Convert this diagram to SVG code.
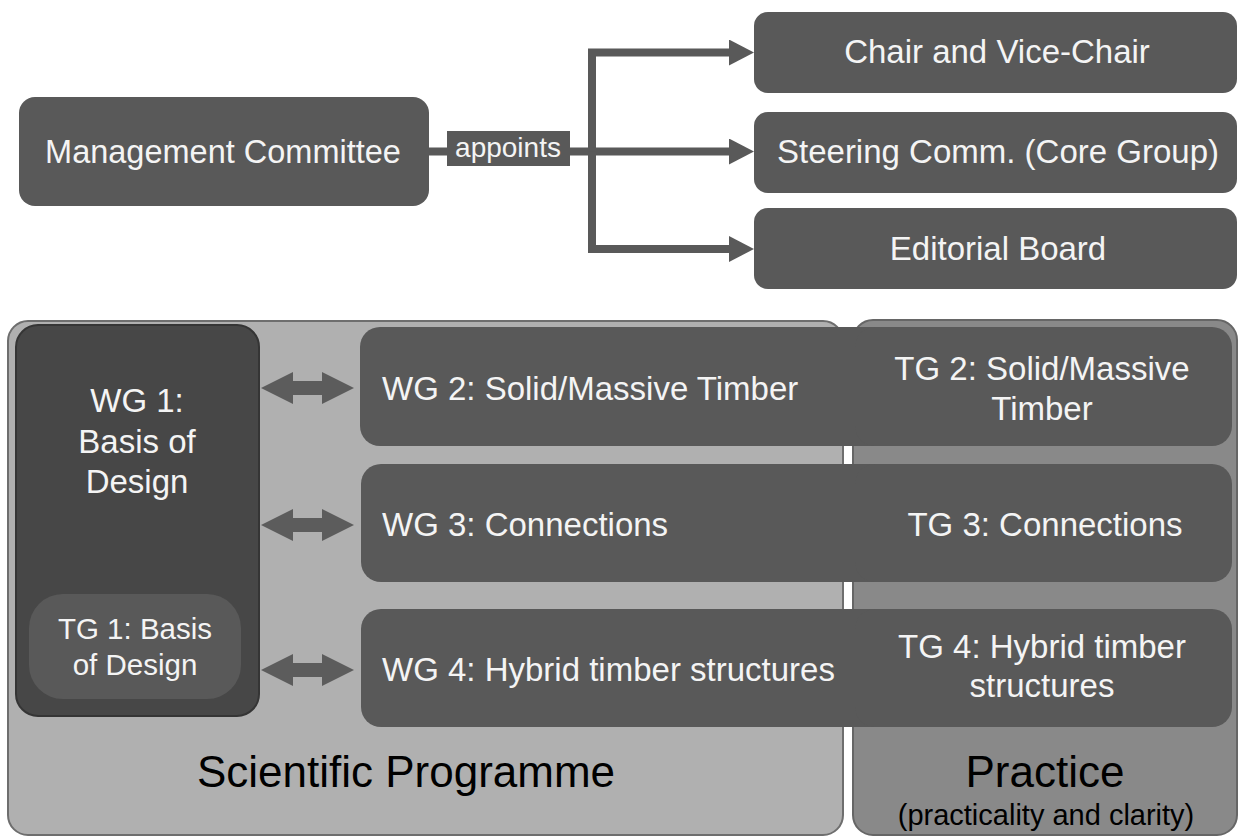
<svg xmlns="http://www.w3.org/2000/svg" width="1238" height="837" viewBox="0 0 1238 837">
<defs>
<style>
.t{font-family:"Liberation Sans",Arial,sans-serif;fill:#f4f4f4;}
.box{fill:#595959;}
.conn{fill:none;stroke:#595959;stroke-width:8;}
.dbl{fill:#5c5c5c;}
.big{font-family:"Liberation Sans",Arial,sans-serif;fill:#000;}
</style>
<marker id="ah" markerUnits="userSpaceOnUse" markerWidth="26" markerHeight="28" refX="0" refY="13" orient="auto">
<path d="M0,0 L25,13 L0,26 z" fill="#595959"/>
</marker>
</defs>
<rect width="1238" height="837" fill="#ffffff"/>

<g id="panel-scientific">
<rect x="8" y="321" width="835" height="514" rx="20" fill="#b0b0b0" stroke="#6e6e6e" stroke-width="2"/>
<text class="big" x="406" y="787" font-size="44" text-anchor="middle">Scientific Programme</text>
</g>
<g id="panel-practice">
<rect x="853" y="320" width="384" height="515" rx="20" fill="#898989" stroke="#666666" stroke-width="2"/>
<text class="big" x="1045" y="787" font-size="44" text-anchor="middle">Practice</text>
<text class="big" x="1046" y="825" font-size="29" text-anchor="middle">(practicality and clarity)</text>
</g>

<g id="connectors">
<path class="conn" d="M429,151.5 H592"/>
<path class="conn" d="M592,151.5 V52.5 H729" marker-end="url(#ah)"/>
<path class="conn" d="M592,151.5 H729" marker-end="url(#ah)"/>
<path class="conn" d="M592,151.5 V249 H729" marker-end="url(#ah)"/>
<polygon class="dbl" points="261,388 293,372 293,381 322,381 322,372 354,388 322,404 322,395 293,395 293,404"/>
<polygon class="dbl" points="261,525 293,509 293,518 322,518 322,509 354,525 322,541 322,532 293,532 293,541"/>
<polygon class="dbl" points="261,670 293,654 293,663 322,663 322,654 354,670 322,686 322,677 293,677 293,686"/>
<g id="label-appoints">
<rect x="447" y="131" width="123" height="35" fill="#595959"/>
<text class="t" x="508" y="157" font-size="28" text-anchor="middle">appoints</text>
</g>
</g>

<g id="management-committee">
<rect class="box" x="19" y="97" width="410" height="109" rx="16"/>
<text class="t" x="223" y="163" font-size="32.5" text-anchor="middle">Management Committee</text>
</g>
<g id="chair">
<rect class="box" x="754" y="12" width="483" height="81" rx="14"/>
<text class="t" x="997" y="63" font-size="33" text-anchor="middle">Chair and Vice-Chair</text>
</g>
<g id="steering">
<rect class="box" x="754" y="112" width="483" height="81" rx="14"/>
<text class="t" x="998" y="163" font-size="33" text-anchor="middle">Steering Comm. (Core Group)</text>
</g>
<g id="editorial">
<rect class="box" x="754" y="208" width="483" height="81" rx="14"/>
<text class="t" x="998" y="260" font-size="33" text-anchor="middle">Editorial Board</text>
</g>

<g id="wg1">
<rect x="16" y="325" width="243" height="391" rx="22" fill="#474747" stroke="#353535" stroke-width="2"/>
<text class="t" x="137" y="412" font-size="33" text-anchor="middle">WG 1:</text>
<text class="t" x="137" y="453" font-size="33" text-anchor="middle">Basis of</text>
<text class="t" x="137" y="493" font-size="33" text-anchor="middle">Design</text>
</g>
<g id="tg1">
<rect x="29" y="594" width="212" height="105" rx="34" fill="#595959"/>
<text class="t" x="135" y="639" font-size="29.5" text-anchor="middle" fill="#eeeeee">TG 1: Basis</text>
<text class="t" x="135" y="675" font-size="29.5" text-anchor="middle" fill="#eeeeee">of Design</text>
</g>

<g id="wg2">
<rect class="box" x="360" y="327" width="540" height="119" rx="20"/>
<text class="t" x="382" y="400" font-size="33">WG 2: Solid/Massive Timber</text>
</g>
<g id="tg2">
<rect class="box" x="855" y="327" width="377" height="119" rx="20"/>
<text class="t" x="1042" y="380" font-size="33" text-anchor="middle">TG 2: Solid/Massive</text>
<text class="t" x="1042" y="420" font-size="33" text-anchor="middle">Timber</text>
</g>
<g id="wg3">
<rect class="box" x="361" y="464" width="540" height="118" rx="20"/>
<text class="t" x="382" y="536" font-size="33">WG 3: Connections</text>
</g>
<g id="tg3">
<rect class="box" x="855" y="464" width="377" height="118" rx="20"/>
<text class="t" x="1045" y="536" font-size="33" text-anchor="middle">TG 3: Connections</text>
</g>
<g id="wg4">
<rect class="box" x="361" y="609" width="540" height="118" rx="20"/>
<text class="t" x="382" y="681" font-size="33">WG 4: Hybrid timber structures</text>
</g>
<g id="tg4">
<rect class="box" x="855" y="609" width="377" height="118" rx="20"/>
<text class="t" x="1042" y="658" font-size="33" text-anchor="middle">TG 4: Hybrid timber</text>
<text class="t" x="1042" y="697" font-size="33" text-anchor="middle">structures</text>
</g>
</svg>
